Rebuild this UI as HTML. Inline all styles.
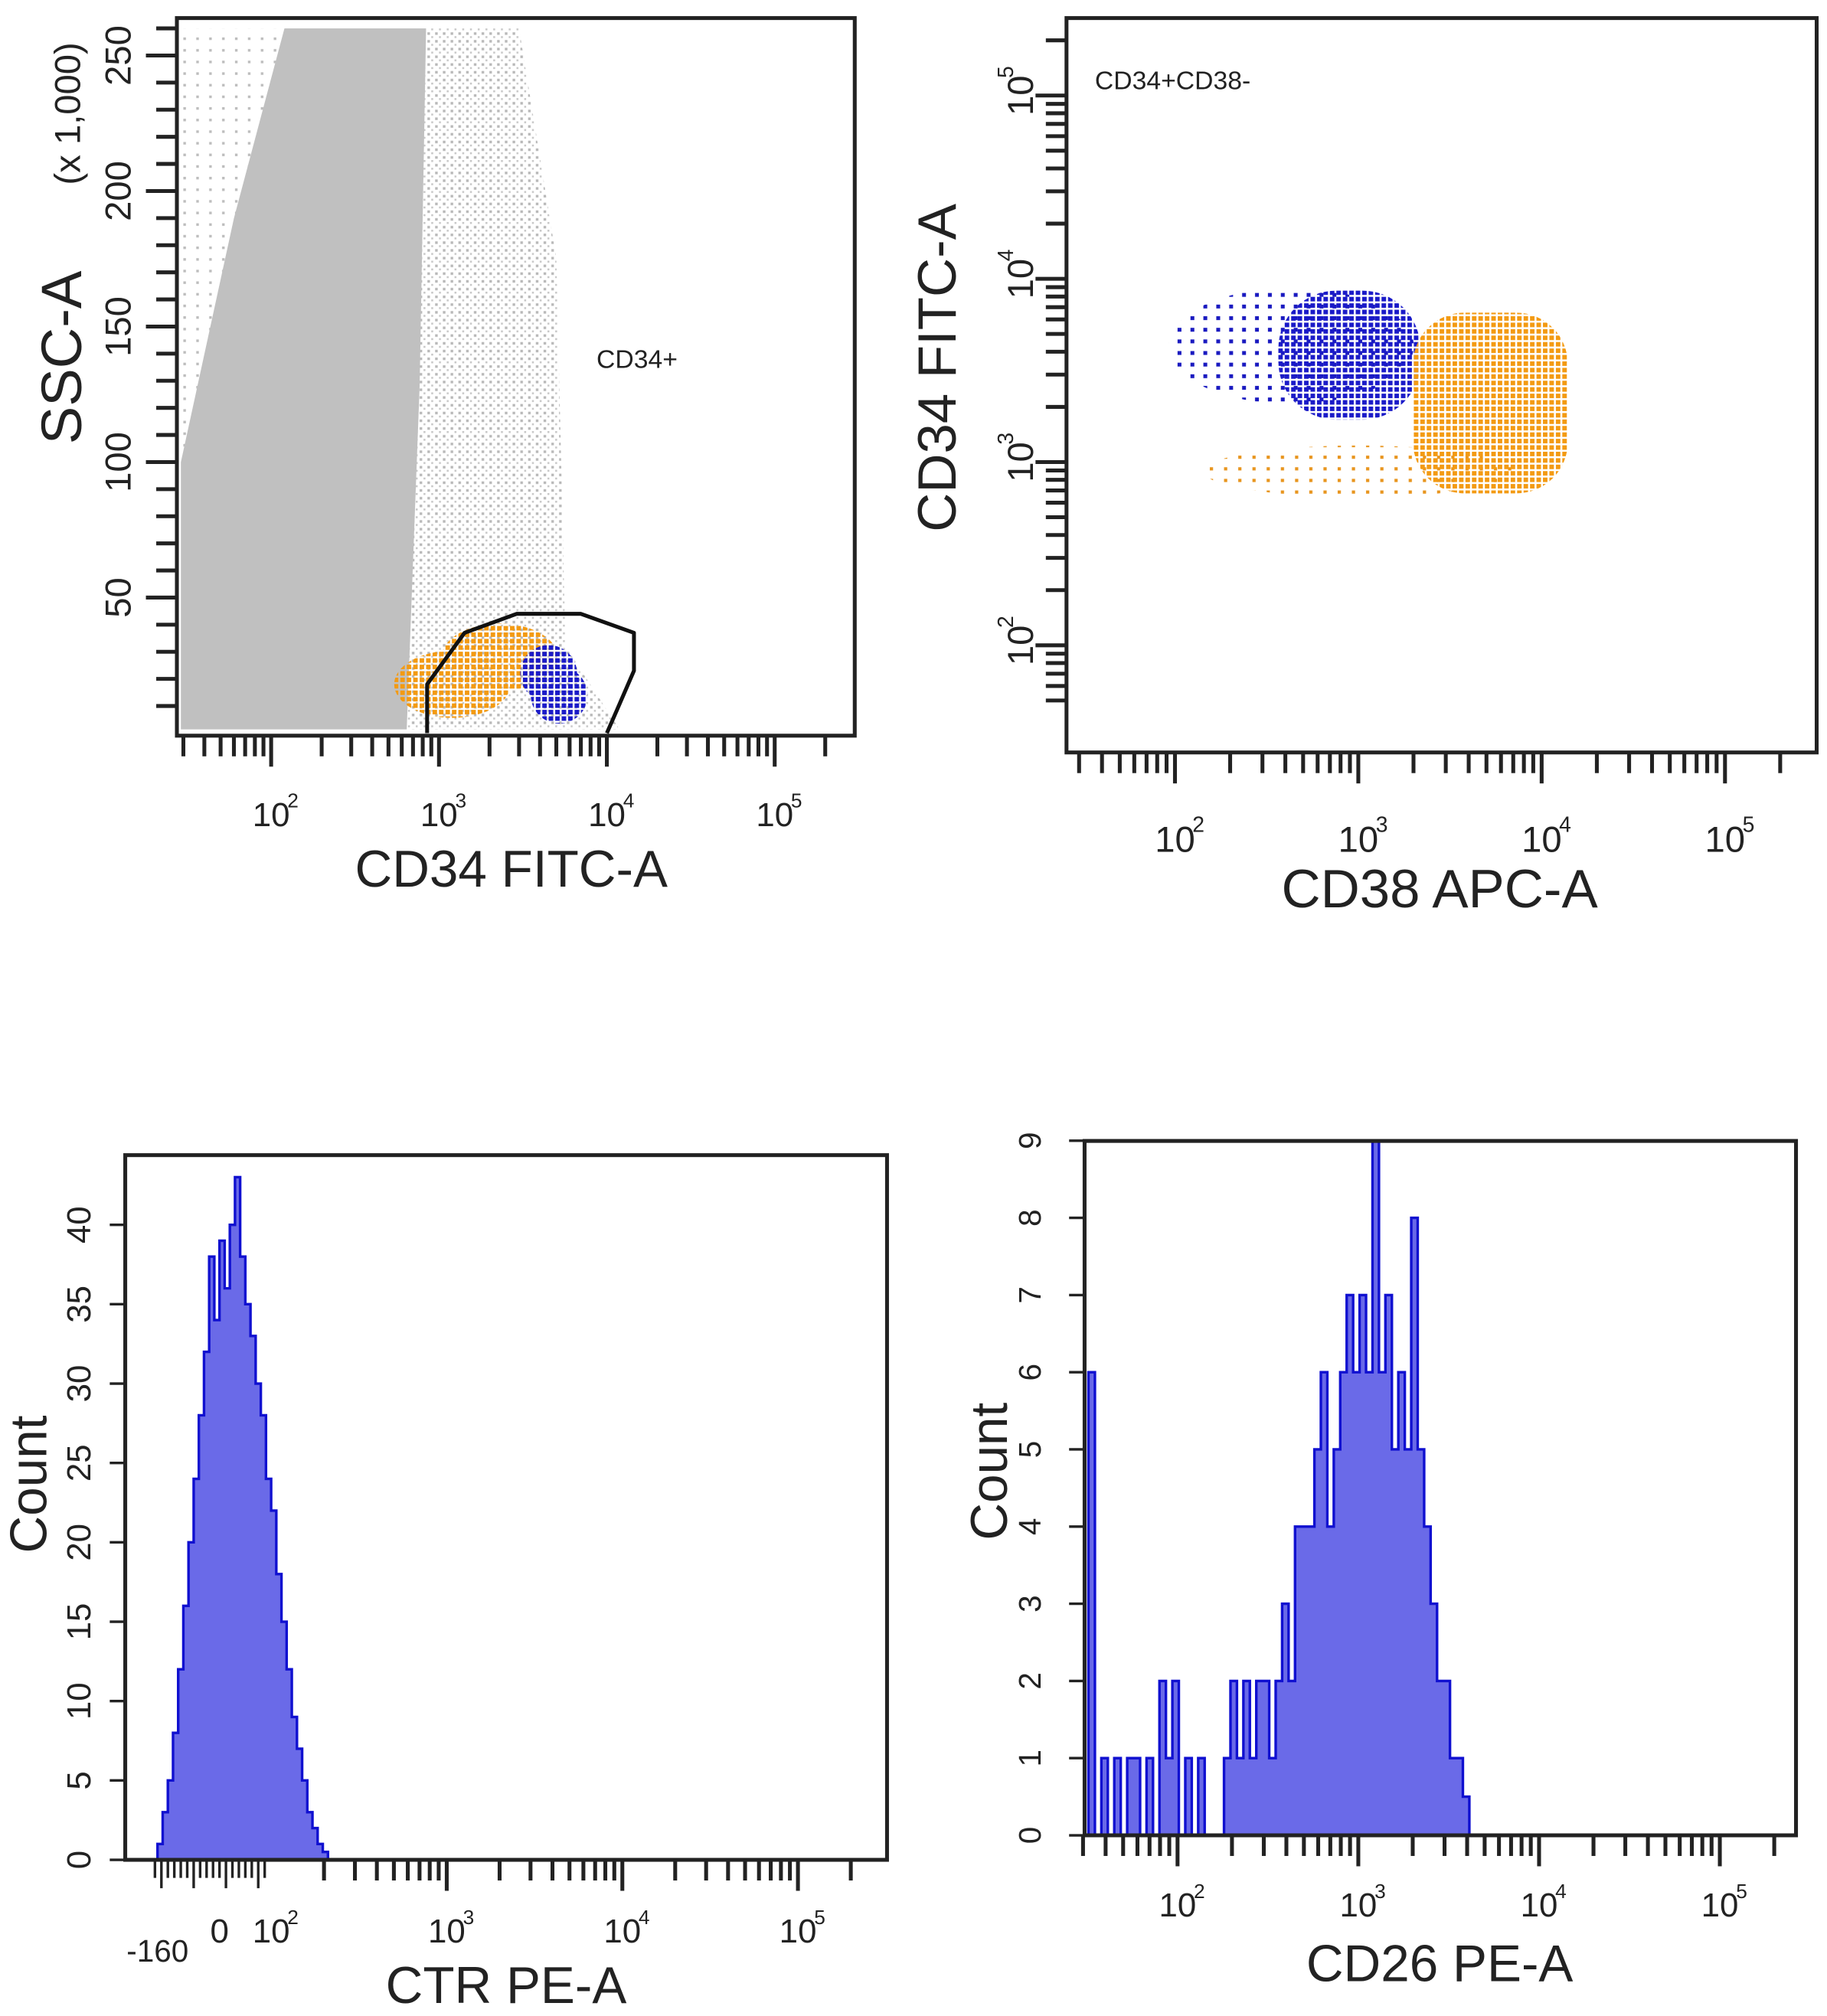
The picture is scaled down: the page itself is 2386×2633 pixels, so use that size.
<!DOCTYPE html>
<html><head><meta charset="utf-8">
<style>
html,body{margin:0;padding:0;background:#fff;}
svg{display:block;}
text{font-family:"Liberation Sans",sans-serif;fill:#222;}
</style></head>
<body>
<svg id="chart" width="2386" height="2633" viewBox="0 0 1415 1562" preserveAspectRatio="none" xmlns="http://www.w3.org/2000/svg">
<defs>
<pattern id="dotGray" width="6" height="6" patternUnits="userSpaceOnUse"><rect x="1" y="1" width="2" height="2" fill="#b8b8b8"/><rect x="4" y="4" width="1.5" height="1.5" fill="#c8c8c8"/></pattern>
<pattern id="dotGray2" width="10" height="9" patternUnits="userSpaceOnUse"><rect x="2" y="2" width="2" height="2" fill="#bdbdbd"/></pattern>
<pattern id="dotBlue" width="5" height="5" patternUnits="userSpaceOnUse"><rect x="0" y="0" width="3.5" height="3.5" fill="#1a1ac8"/></pattern>
<pattern id="dotBlue2" width="10" height="9" patternUnits="userSpaceOnUse"><rect x="2" y="2" width="3" height="3" fill="#1a1ac0"/></pattern>
<pattern id="dotOrange" width="5" height="5" patternUnits="userSpaceOnUse"><rect x="0" y="0" width="3.5" height="3.5" fill="#f39a12"/></pattern>
<pattern id="dotOrange2" width="11" height="9" patternUnits="userSpaceOnUse"><rect x="2" y="2" width="2.5" height="2.5" fill="#e8951e"/></pattern>
</defs>
</svg>
<script>
// ---------- data ----------
const p1Ticks = [2,3,4,5];
const p1YTicks = [50,100,150,200,250];
const denseCloudX = [29,29,60,120,838,767,642];
const denseCloudY = [1.4,100,190,260,260,128,1.4];
const sparseCloudX = [838,3000,5000,5670,11900,642];
const sparseCloudY = [260,260,175,32,1.4,1.4];
const leftSparseX = [29,120,29];
const leftSparseY = [260,260,100];
const p1GateX = [850,850,1420,2900,7000,14500,14500,11500,10000];
const p1GateY = [0,18,37,44,44,37,23,8.6,0];
const p1OrangeX = [1200,2300]; const p1OrangeY = [18,28];
const p1BlueX = [4500,5200];   const p1BlueY = [22,14];

const p2Ticks = [2,3,4,5];
const p2BlueCoreX = [894];   const p2BlueCoreY = [3830];
const p2BlueSparseX = [430]; const p2BlueSparseY = [4300];
const p2OrangeCoreX = [5170]; const p2OrangeCoreY = [2100];
const p2OrangeSparseX = [1000]; const p2OrangeSparseY = [890];

const p3YTicks = [0,5,10,15,20,25,30,35,40];
const p3Counts = [1,3,5,8,12,16,20,24,28,32,38,34,39,36,40,43,38,35,33,30,28,24,22,18,15,12,9,7,5,3,2,1,0.5,0];
const p3XLabels = ["-160","0"];

const p4YTicks = [0,1,2,3,4,5,6,7,8,9];
const p4Counts = [6,0,1,0,1,0,1,1,0,1,0,2,1,2,0,1,0,1,0,0,0,1,2,1,2,1,2,2,1,2,3,2,4,4,4,5,6,4,5,6,7,6,7,6,9,6,7,5,6,5,8,5,4,3,2,2,1,1,0.5];

// ---------- helpers ----------
const NS="http://www.w3.org/2000/svg";
const svg=document.getElementById('chart');
function el(tag,attrs,parent){const e=document.createElementNS(NS,tag);for(const k in attrs)e.setAttribute(k,attrs[k]);(parent||svg).appendChild(e);return e;}
function txt(s,x,y,size,rot,anchor,parent){const t=el('text',{x:x,y:y,'font-size':size,'text-anchor':anchor||'middle'},parent);if(rot)t.setAttribute('transform',`rotate(${rot} ${x} ${y})`);t.textContent=s;return t;}
function pow(exp,x,y,size,parent){const g=el('g',{},parent);txt('10',x,y,size,0,'middle',g);txt(String(exp),x+size*0.65,y-size*0.55,size*0.6,0,'middle',g);return g;}
function logTicksX(scale,y0,decs,minV,maxV,parent){
  for(let d=decs[0]-1;d<=decs[decs.length-1];d++)for(let m=1;m<10;m++){const v=m*Math.pow(10,d);if(v<minV||v>maxV)continue;const x=scale(v);el('line',{x1:x,x2:x,y1:y0,y2:y0+(m===1?24:16),stroke:'#222','stroke-width':3},parent);}
}
function logTicksY(scale,x0,decs,minV,maxV,parent){
  for(let d=decs[0]-1;d<=decs[decs.length-1];d++)for(let m=1;m<10;m++){const v=m*Math.pow(10,d);if(v<minV||v>maxV)continue;const y=scale(v);el('line',{y1:y,y2:y,x1:x0,x2:x0-(m===1?24:16),stroke:'#222','stroke-width':3},parent);}
}
function poly(xsArr,ysArr,xs,ys){let d='';xsArr.forEach((v,i)=>{d+=(i?'L':'M')+xs(v).toFixed(1)+','+ys(ysArr[i]).toFixed(1);});return d;}

// ---------- Panel 1 ----------
(function(){
 const g=el('g',{});  
 const L=137,T=14,R=662,B=570;
 const xs=v=>210+130*(Math.log10(v)-2);
 const ys=v=>568-v*2.1;
 const ls=el('path',{d:poly(leftSparseX,leftSparseY,xs,ys)+'Z',fill:'url(#dotGray2)'},g);  
 const sp=el('path',{d:poly(sparseCloudX,sparseCloudY,xs,ys)+'Z',fill:'url(#dotGray)'},g);  
 const cloud=el('path',{d:poly(denseCloudX,denseCloudY,xs,ys)+'Z',fill:'#c0c0c0'},g);  
 p1OrangeX.forEach((v,i)=>{const e=el('ellipse',{cx:xs(v),cy:ys(p1OrangeY[i]),rx:45,ry:26,fill:'url(#dotOrange)'},g);});
 p1BlueX.forEach((v,i)=>{const e=el('ellipse',{cx:xs(v),cy:ys(p1BlueY[i]),rx:22,ry:22,fill:'url(#dotBlue)'},g);});
 const gate=el('path',{d:poly(p1GateX,p1GateY,xs,ys),fill:'none',stroke:'#111','stroke-width':3,'stroke-linejoin':'round'},g); 
 el('rect',{x:L,y:T,width:R-L,height:B-T,fill:'none',stroke:'#222','stroke-width':3},g);
 logTicksX(xs,B,p1Ticks,30,200000,g);
 p1Ticks.forEach(e=>{const t=pow(e,xs(Math.pow(10,e)),640,26,g);});
 for(let v=10;v<=260;v+=10){const big=v%50===0;el('line',{x1:L,x2:L-(big?24:16),y1:ys(v),y2:ys(v),stroke:'#222','stroke-width':3},g);}
 p1YTicks.forEach(v=>{txt(String(v),101,ys(v),28,-90,'middle',g);});
 txt('(x 1,000)',62,88,28,-90,'middle',g);
 const yt=txt('SSC-A',63,277,44,-90,'middle',g);  
 const xt=txt('CD34 FITC-A',396,687,40,0,'middle',g);  
 const lb=txt('CD34+',462,285,20,0,'start',g);  
})();

// ---------- Panel 2 ----------
(function(){
 const g=el('g',{});  
 const L=826,T=14,R=1407,B=583;
 const xs=v=>910+142*(Math.log10(v)-2);
 const ys=v=>500-142*(Math.log10(v)-2);
 p2OrangeSparseX.forEach((v,i)=>{const e=el('ellipse',{cx:xs(v),cy:ys(p2OrangeSparseY[i]),rx:120,ry:20,fill:'url(#dotOrange2)'},g);});
 p2BlueSparseX.forEach((v,i)=>{const e=el('ellipse',{cx:xs(v),cy:ys(p2BlueSparseY[i]),rx:95,ry:45,fill:'url(#dotBlue2)'},g);});
 p2BlueCoreX.forEach((v,i)=>{const e=el('rect',{x:xs(v)-55,y:ys(p2BlueCoreY[i])-50,width:110,height:100,rx:45,fill:'url(#dotBlue)'},g);});
 p2OrangeCoreX.forEach((v,i)=>{const e=el('rect',{x:xs(v)-59,y:ys(p2OrangeCoreY[i])-70,width:120,height:140,rx:40,fill:'url(#dotOrange)'},g);});
 el('rect',{x:L,y:T,width:R-L,height:B-T,fill:'none',stroke:'#222','stroke-width':3},g);
 logTicksX(xs,B,p2Ticks,30,200000,g);
 logTicksY(ys,L,[2,3,4,5],50,200000,g);
 p2Ticks.forEach(e=>{const t=pow(e,xs(Math.pow(10,e)),660,28,g);});
 [2,3,4,5].forEach(e=>{const y=ys(Math.pow(10,e));const gg=el('g',{transform:`rotate(-90 790 ${y})`},g);pow(e,790,y+10,28,gg);});
 const yt=txt('CD34 FITC-A',740,285,42,-90,'middle',g);  
 const xt=txt('CD38 APC-A',1115,703,42,0,'middle',g);  
 const lb=txt('CD34+CD38-',848,69,20,0,'start',g);  
})();

// ---------- histogram helper ----------
function hist(g,counts,x0,x1,ys,yBase){
 const w=(x1-x0)/counts.length;
 let d='M'+x0+','+yBase;
 counts.forEach((c,i)=>{d+='L'+(x0+i*w)+','+ys(c)+'L'+(x0+(i+1)*w)+','+ys(c);});
 d+='L'+x1+','+yBase+'Z';
 const p=el('path',{d:d,fill:'#6a6ae8',stroke:'#1010d0','stroke-width':2},g);
  
}

// ---------- Panel 3 ----------
(function(){
 const g=el('g',{});  
 const L=97,T=895,R=687,B=1441;
 const ys=v=>1441-v*12.3;
 hist(g,p3Counts,122,258,ys,B);
 el('rect',{x:L,y:T,width:R-L,height:B-T,fill:'none',stroke:'#222','stroke-width':3},g);
 p3YTicks.forEach(v=>{el('line',{x1:L,x2:L-12,y1:ys(v),y2:ys(v),stroke:'#222','stroke-width':2},g);txt(String(v),70,ys(v),26,-90,'middle',g);});
 const xs=v=>210+136*(Math.log10(v)-2);
 for(let x=120;x<=205;x+=5){el('line',{x1:x,x2:x,y1:B,y2:B+(x%25===0?22:14),stroke:'#222','stroke-width':2},g);}
 logTicksX(xs,B,[3,4,5],200,200000,g);
 txt(p3XLabels[0],122,1520,24,0,'middle',g); txt(p3XLabels[1],170,1505,26,0,'middle',g);
 pow(2,210,1505,26,g);
 [3,4,5].forEach(e=>pow(e,xs(Math.pow(10,e)),1505,26,g));
 const yt=txt('Count',36,1150,40,-90,'middle',g);  
 const xt=txt('CTR PE-A',392,1552,40,0,'middle',g);  
})();

// ---------- Panel 4 ----------
(function(){
 const g=el('g',{});  
 const L=840,T=884,R=1391,B=1422;
 const ys=v=>1422-v*59.8;
 hist(g,p4Counts,843,1138,ys,B);
 el('rect',{x:L,y:T,width:R-L,height:B-T,fill:'none',stroke:'#222','stroke-width':3},g);
 p4YTicks.forEach(v=>{el('line',{x1:L,x2:L-12,y1:ys(v),y2:ys(v),stroke:'#222','stroke-width':2},g);txt(String(v),806,ys(v),24,-90,'middle',g);});
 const xs=v=>912+140*(Math.log10(v)-2);
 logTicksX(xs,B,[2,3,4,5],30,200000,g);
 [2,3,4,5].forEach(e=>pow(e,xs(Math.pow(10,e)),1485,26,g));
 const yt=txt('Count',780,1140,40,-90,'middle',g);  
 const xt=txt('CD26 PE-A',1115,1535,40,0,'middle',g);  
})();
</script>
</body></html>
